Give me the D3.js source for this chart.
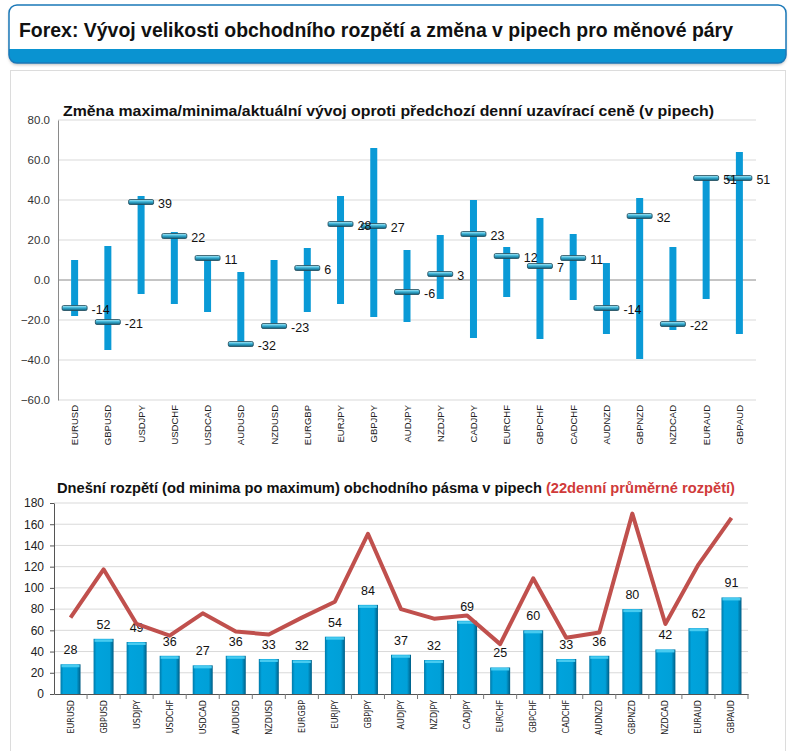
<!DOCTYPE html>
<html>
<head>
<meta charset="utf-8">
<script src="https://cdn.jsdelivr.net/npm/d3@7"></script>
<style>
  body { margin: 0; background: #fff; }
  svg { display: block; font-family: "Liberation Sans", Arial, sans-serif; }
</style>
</head>
<body>
<svg id="chart" width="794" height="751"></svg>
<script>
// data
var pairs = ["EURUSD","GBPUSD","USDJPY","USDCHF","USDCAD","AUDUSD","NZDUSD","EURGBP","EURJPY","GBPJPY","AUDJPY",
             "NZDJPY","CADJPY","EURCHF","GBPCHF","CADCHF","AUDNZD","GBPNZD","NZDCAD","EURAUD","GBPAUD"];
var rangeMax = [10, 17, 42, 24, 11, 4, 10, 16, 42, 66, 15, 22.5, 40, 16.5, 31, 23, 8.5, 41, 16.5, 52, 64];
var rangeMin = [-18, -35, -7, -12, -16, -32, -23, -16, -12, -18.5, -21, -9.5, -29, -8.5, -29.5, -10, -27, -39.5, -25, -9.5, -27];
var current  = [-14, -21, 39, 22, 11, -32, -23, 6, 28, 27, -6, 3, 23, 12, 7, 11, -14, 32, -22, 51, 51];
var topTicks = [-60, -40, -20, 0, 20, 40, 60, 80];

var dailyRange = [28, 52, 49, 36, 27, 36, 33, 32, 54, 84, 37, 32, 69, 25, 60, 33, 36, 80, 42, 62, 91];
var avgRange22 = [72, 117.5, 66, 55, 76, 59, 56, 72, 87, 151, 80, 71, 74, 47, 109, 53, 58, 170, 66, 122, 166];
var bottomTicks = [0, 20, 40, 60, 80, 100, 120, 140, 160, 180];

var svg = d3.select("#chart");
var defs = svg.append("defs");

// header box
var hdr = defs.append("filter").attr("id", "shadow").attr("x", "-5%").attr("y", "-20%").attr("width", "110%").attr("height", "150%");
hdr.append("feDropShadow").attr("dx", 0).attr("dy", 2).attr("stdDeviation", 1.5).attr("flood-color", "#999").attr("flood-opacity", 0.6);

svg.append("clipPath").attr("id", "hclip")
  .append("rect").attr("x", 9).attr("y", 5).attr("width", 777).attr("height", 58).attr("rx", 8);

svg.append("rect").attr("x", 9).attr("y", 5).attr("width", 777).attr("height", 58).attr("rx", 8)
  .attr("fill", "#fff").attr("filter", "url(#shadow)");
svg.append("rect").attr("x", 9).attr("y", 49).attr("width", 777).attr("height", 14)
  .attr("fill", "#0a93d1").attr("clip-path", "url(#hclip)");
svg.append("rect").attr("x", 9).attr("y", 5).attr("width", 777).attr("height", 58).attr("rx", 8)
  .attr("fill", "none").attr("stroke", "#1a78b8").attr("stroke-width", 1.5);
svg.append("text").attr("x", 19).attr("y", 37)
  .attr("font-size", 20).attr("font-weight", "bold").attr("fill", "#111")
  .attr("textLength", 714).attr("lengthAdjust", "spacingAndGlyphs")
  .text("Forex: Vývoj velikosti obchodního rozpětí a změna v pipech pro měnové páry");

// panel
svg.append("rect").attr("x", 10.5).attr("y", 70.5).attr("width", 775).attr("height", 690)
  .attr("fill", "#fff").attr("stroke", "#dcdcdc");

// ---------- top chart ----------
var x1 = d3.scaleBand().domain(pairs).range([58, 756]);
var y1 = d3.scaleLinear().domain([-60, 80]).range([400, 120]);

svg.append("text").attr("x", 63).attr("y", 116)
  .attr("font-size", 15).attr("font-weight", "bold").attr("fill", "#111")
  .attr("textLength", 651).attr("lengthAdjust", "spacingAndGlyphs")
  .text("Změna maxima/minima/aktuální vývoj oproti předchozí denní uzavírací ceně (v pipech)");

var g1 = svg.append("g");
g1.selectAll("line.grid").data(topTicks).enter().append("line")
  .attr("x1", 58).attr("x2", 756)
  .attr("y1", d => y1(d)).attr("y2", d => y1(d))
  .attr("stroke", d => d === 0 ? "#8a8a8a" : "#d9d9d9").attr("stroke-width", 1);

var ax1 = g1.append("g").attr("transform", "translate(58,0)")
  .call(d3.axisLeft(y1).tickValues(topTicks).tickFormat(d3.format(".1f")).tickSize(0).tickPadding(8));
ax1.select(".domain").attr("stroke", "#8a8a8a");
ax1.selectAll("text").attr("font-size", 11.5).attr("fill", "#333").attr("font-family", "Liberation Sans, Arial");

var mg = defs.append("linearGradient").attr("id", "marker").attr("x1", 0).attr("y1", 0).attr("x2", 0).attr("y2", 1);
mg.append("stop").attr("offset", "0%").attr("stop-color", "#b8ecf7");
mg.append("stop").attr("offset", "45%").attr("stop-color", "#3cb4d8");
mg.append("stop").attr("offset", "100%").attr("stop-color", "#0b5a78");

var cw = x1.bandwidth();
g1.selectAll("rect.range").data(pairs).enter().append("rect")
  .attr("x", d => x1(d) + cw / 2 - 3.5).attr("width", 7)
  .attr("y", (d, i) => y1(rangeMax[i]))
  .attr("height", (d, i) => y1(rangeMin[i]) - y1(rangeMax[i]))
  .attr("fill", "#0a9ad6");

g1.selectAll("rect.cur").data(pairs).enter().append("rect")
  .attr("x", d => x1(d) + cw / 2 - 12.5).attr("width", 25)
  .attr("y", (d, i) => y1(current[i]) - 2.5).attr("height", 5).attr("rx", 1.5)
  .attr("fill", "url(#marker)").attr("stroke", "#1e4a5a").attr("stroke-width", 0.8);

g1.selectAll("text.cur").data(pairs).enter().append("text")
  .attr("x", d => x1(d) + cw / 2 + 17)
  .attr("y", (d, i) => y1(current[i]) + 6)
  .attr("font-size", 12.5).attr("fill", "#111")
  .text((d, i) => current[i]);

g1.selectAll("text.xl").data(pairs).enter().append("text")
  .attr("transform", d => "translate(" + (x1(d) + cw / 2 + 3.5) + ",405) rotate(-90)")
  .attr("text-anchor", "end").attr("font-size", 9.5).attr("fill", "#222")
  .text(d => d);

// ---------- bottom chart ----------
var x2 = d3.scaleBand().domain(pairs).range([54, 748]);
var y2 = d3.scaleLinear().domain([0, 180]).range([694, 503]);

var t2 = svg.append("text").attr("x", 57).attr("y", 493)
  .attr("font-size", 14.5).attr("font-weight", "bold")
  .attr("textLength", 678).attr("lengthAdjust", "spacingAndGlyphs");
t2.append("tspan").attr("fill", "#111").text("Dnešní rozpětí (od minima po maximum) obchodního pásma v pipech ");
t2.append("tspan").attr("fill", "#d03a3a").text("(22denní průměrné rozpětí)");

var g2 = svg.append("g");
g2.selectAll("line.grid").data(bottomTicks.slice(1)).enter().append("line")
  .attr("x1", 54).attr("x2", 748)
  .attr("y1", d => y2(d)).attr("y2", d => y2(d))
  .attr("stroke", "#d9d9d9");

var ax2 = g2.append("g").attr("transform", "translate(54,0)")
  .call(d3.axisLeft(y2).tickValues(bottomTicks).tickSize(4).tickSizeOuter(0).tickPadding(6));
ax2.selectAll("path,line").attr("stroke", "#555");
ax2.selectAll("text").attr("font-size", 12).attr("fill", "#222").attr("font-family", "Liberation Sans, Arial");

var ax2b = g2.append("g").attr("transform", "translate(0,694)")
  .call(d3.axisBottom(x2).tickSize(0).tickFormat(""));
ax2b.select(".domain").attr("stroke", "#555");
g2.selectAll("line.xt").data(pairs).enter().append("line")
  .attr("x1", d => x2(d) + x2.bandwidth()).attr("x2", d => x2(d) + x2.bandwidth())
  .attr("y1", 694).attr("y2", 699).attr("stroke", "#777");

var bg = defs.append("linearGradient").attr("id", "bar").attr("x1", 0).attr("y1", 0).attr("x2", 1).attr("y2", 0);
bg.append("stop").attr("offset", "0%").attr("stop-color", "#0079a8");
bg.append("stop").attr("offset", "15%").attr("stop-color", "#00a3dc");
bg.append("stop").attr("offset", "80%").attr("stop-color", "#00a0d8");
bg.append("stop").attr("offset", "100%").attr("stop-color", "#005d85");

var bw = x2.bandwidth();
var bars = g2.selectAll("g.bar").data(pairs).enter().append("g");
bars.append("rect")
  .attr("x", d => x2(d) + bw / 2 - 10).attr("width", 20)
  .attr("y", (d, i) => y2(dailyRange[i]))
  .attr("height", (d, i) => 694 - y2(dailyRange[i]))
  .attr("fill", "url(#bar)");
bars.append("rect")
  .attr("x", d => x2(d) + bw / 2 - 9).attr("width", 18)
  .attr("y", (d, i) => y2(dailyRange[i]) + 0.5).attr("height", 2.5)
  .attr("fill", "#47cbf0");

bars.append("text")
  .attr("x", d => x2(d) + bw / 2)
  .attr("y", (d, i) => y2(dailyRange[i]) - 10)
  .attr("text-anchor", "middle").attr("font-size", 12.5).attr("fill", "#111")
  .text((d, i) => dailyRange[i]);

var line = d3.line()
  .x((d, i) => x2(pairs[i]) + bw / 2)
  .y(d => y2(d));
g2.append("path").datum(avgRange22)
  .attr("d", line).attr("fill", "none")
  .attr("stroke", "#c0504d").attr("stroke-width", 4).attr("stroke-linejoin", "round");

g2.selectAll("text.xl").data(pairs).enter().append("text")
  .attr("transform", d => "translate(" + (x2(d) + bw / 2 + 3) + ",700) rotate(-90)")
  .attr("text-anchor", "end").attr("font-size", 8).attr("fill", "#222")
  .attr("font-family", "DejaVu Sans")
  .text(d => d);
</script>
</body>
</html>
